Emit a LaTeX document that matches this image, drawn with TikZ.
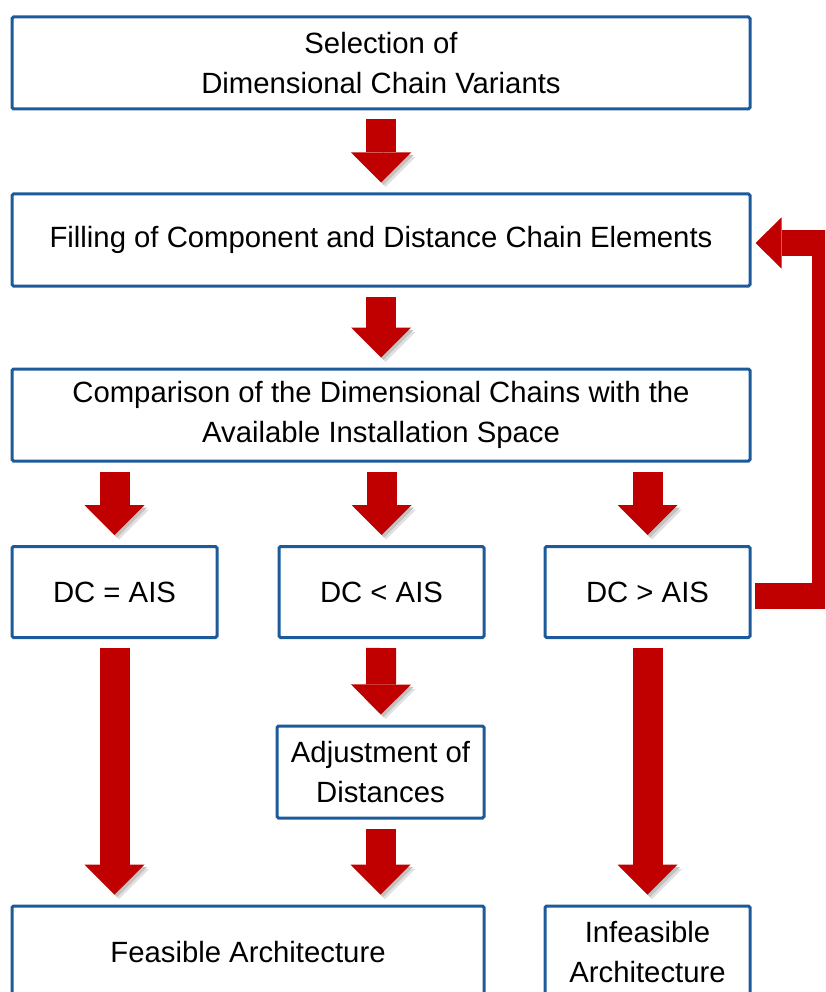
\documentclass[tikz,border=0pt]{standalone}
\usepackage{fontspec}
\setmainfont{Liberation Sans}
\usetikzlibrary{arrows.meta}
\definecolor{boxblue}{RGB}{28,90,155}
\definecolor{flowred}{RGB}{192,0,0}

\begin{document}
\begin{tikzpicture}[x=1pt,y=-1pt,font=\fontsize{29.3}{40}\selectfont,
    stage/.style={draw=boxblue,line width=3pt,rounded corners=1.5pt,align=center,inner sep=0pt},
    wide/.style={stage,minimum width=738pt,minimum height=92pt},
    small/.style={stage,minimum width=205pt,minimum height=91pt},
    flow/.style={draw=flowred,line width=30pt,
      -{Triangle[width=60pt,length=30pt,line width=0pt]},shorten <=9pt,shorten >=10pt,
      preaction={draw=black!12,transform canvas={shift={(4.5pt,-4.5pt)}}},
      preaction={draw=black!24,transform canvas={shift={(2.5pt,-2.5pt)}}}},
    backflow/.style={draw=flowred,line width=26pt,line join=miter,
      -{Triangle[width=51pt,length=26pt,line width=0pt]},shorten <=3pt,shorten >=4pt}]
    \clip (0,0) rectangle (825,992);
    % process steps
    \node[wide] (sel) at (381,63) {Selection of\\Dimensional Chain Variants};
    \node[wide] (fill) at (381,240) {Filling of Component and Distance Chain Elements};
    \node[wide] (cmp) at (381,415) {Comparison of the Dimensional Chains with the\\Available Installation Space};
    % three outcomes
    \node[small] (dceq) at (114.5,592) {DC = AIS};
    \node[small] (dclt) at (381.5,592) {DC < AIS};
    \node[small] (dcgt) at (647.5,592) {DC > AIS};
    \node[stage,minimum width=207pt,minimum height=92pt] (adj) at (380.5,772) {Adjustment of\\Distances};
    \node[stage,minimum width=472pt,minimum height=92pt] (feas) at (248,952) {Feasible Architecture};
    \node[small,minimum height=92pt] (infeas) at (647.5,952) {Infeasible\\Architecture};
    % block arrows
    \draw[flow] (sel) -- (fill);
    \draw[flow] (fill) -- (cmp);
    \foreach \n in {dceq,dclt,dcgt}{\draw[flow] (\n |- cmp.south) -- (\n);}
    \draw[flow] (dceq) -- (dceq |- feas.north);
    \draw[flow] (dclt) -- (adj);
    \draw[flow] (adj) -- (adj |- feas.north);
    \draw[flow] (dcgt) -- (infeas);
    % loop back when the chains are too long
    \coordinate (back) at (825,243);
    \draw[backflow] ([yshift=-4pt]dcgt.east) -| (back) -- ([yshift=-3pt]fill.east);
  \end{tikzpicture}
\end{document}
